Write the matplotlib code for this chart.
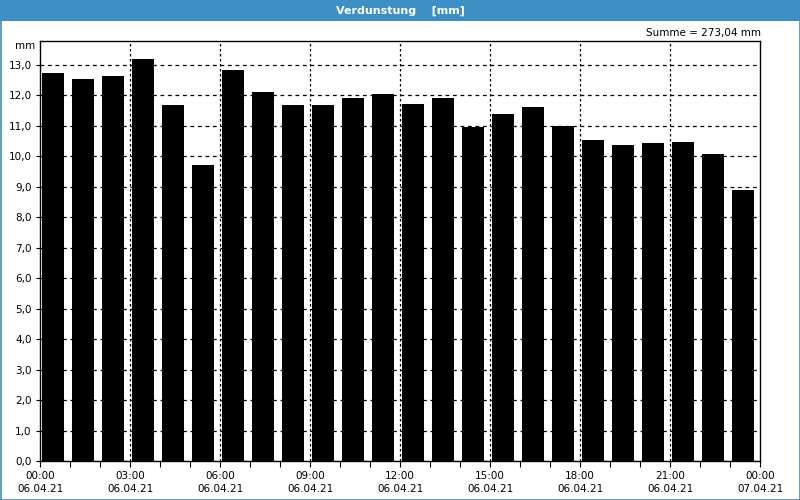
import matplotlib
matplotlib.use("Agg")
import matplotlib.pyplot as plt
from matplotlib.patches import Rectangle

# hourly evaporation values, 06.04.21 00:00 .. 23:00
hours = list(range(24))
values = [12.73, 12.53, 12.63, 13.19, 11.68, 9.71,
          12.81, 12.11, 11.68, 11.68, 11.91, 12.04,
          11.71, 11.91, 10.94, 11.37, 11.60, 11.00,
          10.52, 10.35, 10.42, 10.45, 10.07, 8.90]
tick_pos = [0, 3, 6, 9, 12, 15, 18, 21, 24]
tick_labels = ["00:00\n06.04.21", "03:00\n06.04.21", "06:00\n06.04.21",
               "09:00\n06.04.21", "12:00\n06.04.21", "15:00\n06.04.21",
               "18:00\n06.04.21", "21:00\n06.04.21", "00:00\n07.04.21"]
y_ticks = list(range(14))
title = "Verdunstung    [mm]"
summe = "Summe = 273,04 mm"

blue = "#3D8FC6"
plt.rcParams["font.family"] = ["DejaVu Sans"]
plt.rcParams["font.size"] = 7.5

fig = plt.figure(figsize=(8, 5), dpi=100, facecolor="white")

# title bar and frame
fig.patches.append(Rectangle((0, 1 - 21 / 500), 1, 21 / 500, transform=fig.transFigure,
                             facecolor=blue, edgecolor="none", zorder=0))
fig.patches.append(Rectangle((0.5 / 800, 0.5 / 500), 799 / 800, 499 / 500, transform=fig.transFigure,
                             facecolor="none", edgecolor=blue, linewidth=1.2, zorder=0))
fig.text(0.5, 1 - 10.5 / 500, title, color="white", fontweight="bold",
         ha="center", va="center", fontsize=8)

ax = fig.add_axes([40 / 800, 39 / 500, 720 / 800, 420.5 / 500])
ax.set_xlim(0, 24)
ax.set_ylim(0, 13.79)

ax.bar([h + 2 / 30 for h in hours], values, width=22 / 30, align="edge",
       color="black", zorder=3)

ax.set_yticks(y_ticks)
ax.set_yticklabels([f"{v},0" for v in y_ticks])
ax.set_xticks(tick_pos)
ax.set_xticklabels(tick_labels, linespacing=1.45)
ax.set_xticks(range(25), minor=True)
ax.tick_params(axis="x", which="both", length=4, width=0.8, direction="out", pad=3)
ax.tick_params(axis="y", length=3, width=0.8, pad=3)

ax.yaxis.grid(True, color="black", linestyle=(0, (3, 3)), linewidth=0.9, zorder=1)
for x in tick_pos[1:-1]:
    ax.axvline(x, color="black", linestyle=(0, (2, 2)), linewidth=0.9, zorder=1)
ax.set_axisbelow(True)
for s in ax.spines.values():
    s.set_linewidth(1.0)

fig.text(35 / 800, 1 - 46 / 500, "mm", ha="right", va="center")
fig.text(761 / 800, 1 - 33 / 500, summe, ha="right", va="center")

fig.savefig("out.png", dpi=100, facecolor="white")
